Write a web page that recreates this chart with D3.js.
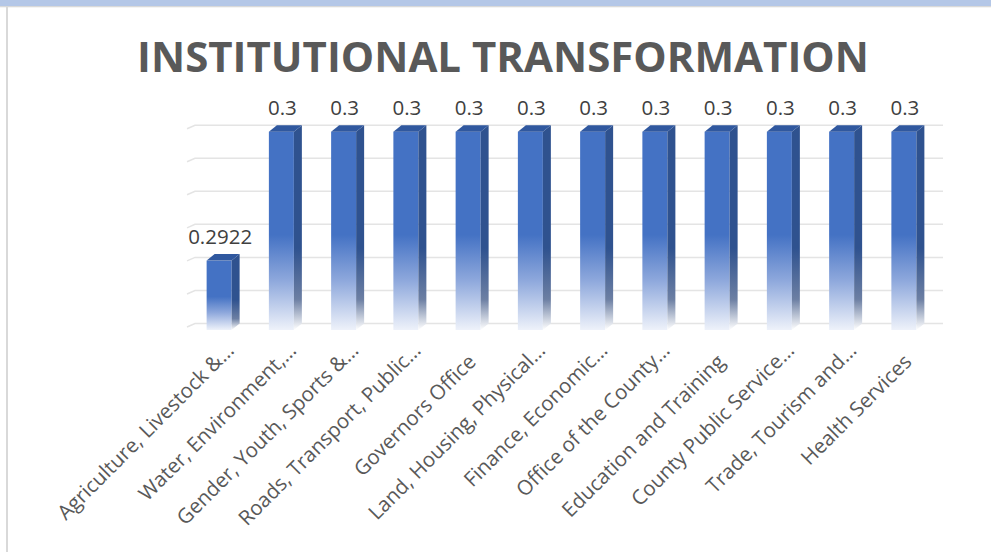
<!DOCTYPE html>
<html>
<head>
<meta charset="utf-8">
<script src="https://cdn.jsdelivr.net/npm/d3@7"></script>
<style>
  html, body { margin: 0; padding: 0; background: #fff; }
  #chart { width: 991px; height: 552px; }
  text { font-family: "Open Sans", "Segoe UI", sans-serif; }
</style>
</head>
<body>
<div id="chart"></div>
<script>
(function() {

  var title = 'INSTITUTIONAL TRANSFORMATION';

  var categories = [
    'Agriculture, Livestock &…',
    'Water, Environment,…',
    'Gender, Youth, Sports &…',
    'Roads, Transport, Public…',
    'Governors Office',
    'Land, Housing, Physical…',
    'Finance, Economic…',
    'Office of the County…',
    'Education and Training',
    'County Public Service…',
    'Trade, Tourism and…',
    'Health Services'
  ];

  var values = [0.2922, 0.3, 0.3, 0.3, 0.3, 0.3, 0.3, 0.3, 0.3, 0.3, 0.3, 0.3];

  var axisMin = 0.288;
  var axisMax = 0.3;

  var width = 991;
  var height = 552;
  var left = 188, right = 935;
  var top = 131.7, bottom = 330;
  var depthX = 8, depthY = -6.5;
  var barWidth = 25;

  var xScale = d3.scaleBand()
    .domain(categories)
    .range([left, right]);

  var yScale = d3.scaleLinear()
    .domain([axisMin, axisMax])
    .range([bottom, top]);

  var svg = d3.select('#chart')
    .append('svg')
    .attr('width', width)
    .attr('height', height);

  // frame bits
  svg.append('rect').attr('x', 0).attr('y', 0).attr('width', width).attr('height', 6).attr('fill', '#B4C7E7');
  svg.append('rect').attr('x', 0).attr('y', 6).attr('width', width).attr('height', 1.3).attr('fill', '#D9D9D9');
  svg.append('rect').attr('x', 6).attr('y', 7).attr('width', 2).attr('height', height - 7).attr('fill', '#D9D9D9');

  var defs = svg.append('defs');

  var front = defs.append('linearGradient').attr('id', 'gFront').attr('x1', 0).attr('y1', 0).attr('x2', 0).attr('y2', 1);
  front.append('stop').attr('offset', 0).attr('stop-color', '#4472C4');
  front.append('stop').attr('offset', 0.52).attr('stop-color', '#4472C4');
  front.append('stop').attr('offset', 0.75).attr('stop-color', '#8EA8DC');
  front.append('stop').attr('offset', 1).attr('stop-color', '#EEF2FA');

  var side = defs.append('linearGradient').attr('id', 'gSide').attr('x1', 0).attr('y1', 0).attr('x2', 0).attr('y2', 1);
  side.append('stop').attr('offset', 0).attr('stop-color', '#2F528F');
  side.append('stop').attr('offset', 0.6).attr('stop-color', '#2F528F');
  side.append('stop').attr('offset', 0.85).attr('stop-color', '#6C7FA3');
  side.append('stop').attr('offset', 1).attr('stop-color', '#FFFFFF');

  // gridlines on back wall
  var grid = svg.append('g');
  yScale.ticks(6).forEach(function(t) {
    var y = yScale(t) + depthY;
    grid.append('path')
      .attr('d', 'M' + (left - 1) + ',' + (y + 3.5) + 'L' + (left + depthX - 1) + ',' + y + 'L' + (right + depthX) + ',' + y)
      .attr('fill', 'none')
      .attr('stroke', '#E4E4E4')
      .attr('stroke-width', 1.5);
  });

  // bars
  var bars = svg.selectAll('g.bar')
    .data(values)
    .enter()
    .append('g')
    .attr('class', 'bar');

  function x0(d, i) { return xScale(categories[i]) + (xScale.bandwidth() - barWidth) / 2; }

  bars.append('rect')
    .attr('x', x0)
    .attr('y', function(d) { return yScale(d); })
    .attr('width', barWidth)
    .attr('height', function(d) { return bottom - yScale(d); })
    .attr('fill', 'url(#gFront)');

  bars.append('path')
    .attr('d', function(d, i) {
      var xr = x0(d, i) + barWidth, yt = yScale(d);
      return 'M' + xr + ',' + yt + 'L' + (xr + depthX) + ',' + (yt + depthY) +
        'L' + (xr + depthX) + ',' + (bottom + depthY) + 'L' + xr + ',' + bottom + 'Z';
    })
    .attr('fill', 'url(#gSide)');

  bars.append('path')
    .attr('d', function(d, i) {
      var xl = x0(d, i), xr = xl + barWidth, yt = yScale(d);
      return 'M' + xl + ',' + yt + 'L' + (xl + depthX) + ',' + (yt + depthY) +
        'L' + (xr + depthX) + ',' + (yt + depthY) + 'L' + xr + ',' + yt + 'Z';
    })
    .attr('fill', '#30589F');

  // data labels
  svg.selectAll('text.value')
    .data(values)
    .enter()
    .append('text')
    .attr('class', 'value')
    .attr('x', function(d, i) { return xScale(categories[i]) + xScale.bandwidth() / 2 + 1; })
    .attr('y', function(d) { return yScale(d) - 17; })
    .attr('text-anchor', 'middle')
    .attr('fill', '#404040')
    .style('font-size', '20.5px')
    .text(function(d) { return String(d); });

  // category labels, rotated
  svg.selectAll('text.cat')
    .data(categories)
    .enter()
    .append('text')
    .attr('class', 'cat')
    .attr('transform', function(d) {
      return 'translate(' + (xScale(d) + xScale.bandwidth() / 2 + 9) + ',363) rotate(-45)';
    })
    .attr('dx', function(d) { return /…$/.test(d) ? 13 : 0; })
    .attr('dy', function(d) { return /…$/.test(d) ? -3 : 0; })
    .attr('text-anchor', 'end')
    .attr('fill', '#595959')
    .style('font-size', '20.5px')
    .text(function(d) { return d; });

  svg.append('text')
    .attr('x', 503)
    .attr('y', 72)
    .attr('text-anchor', 'middle')
    .attr('fill', '#595959')
    .style('font-size', '42px')
    .style('font-weight', 'bold')
    .text(title);

})();
</script>
</body>
</html>
